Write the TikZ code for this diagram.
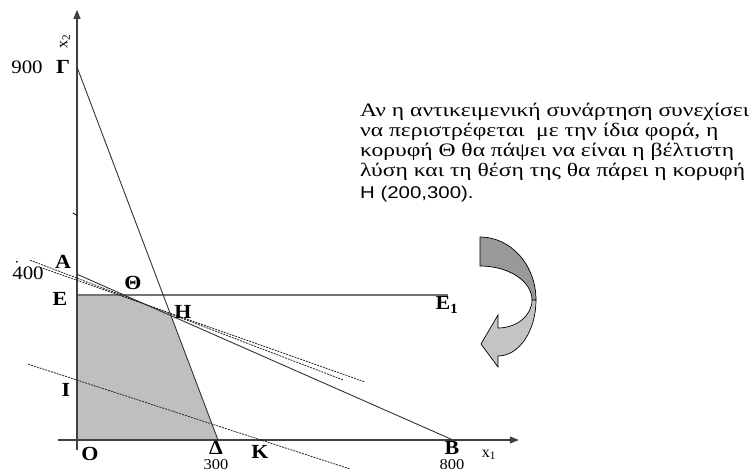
\documentclass[tikz,border=0pt]{standalone}
\usepackage{fontspec}
\setmainfont{Liberation Serif}
\newfontfamily\sansf{Liberation Sans}
\usepackage{graphicx}
\usetikzlibrary{arrows.meta}
\newcommand{\hs}[1]{\scalebox{1.1}[1]{#1}}
\newcommand{\ts}[1]{\scalebox{1.24}[1]{#1}}
\tikzset{
 lbl/.style={inner sep=0pt, font=\fontsize{20}{22}\selectfont\bfseries},
 num/.style={inner sep=0pt, font=\fontsize{19}{21}\selectfont},
 bnum/.style={inner sep=0pt, anchor=base, font=\fontsize{15}{16}\selectfont},
 axl/.style={inner sep=0pt, font=\fontsize{16}{18}\selectfont},
 axis/.style={draw=black!75, line width=1.1pt},
 cline/.style={draw=black!80, line width=0.9pt},
 eline/.style={draw=black!55, line width=1.6pt},
 dline/.style={draw=black!85, line width=0.8pt, dash pattern=on 2pt off 1pt},
 txt/.style={inner sep=0pt, anchor=base west, font=\fontsize{19}{20}\selectfont},
 darkpart/.style={fill=black!40, draw=black, line width=0.7pt},
 lightpart/.style={fill=black!23, draw=black, line width=0.7pt},
}
\begin{document}
\begin{tikzpicture}[x=1pt,y=1pt]
\useasboundingbox (0,0) rectangle (752,473);
\begin{scope}[shift={(77pt,33pt)}, x=0.47pt, y=0.4144pt]
 \coordinate (O) at (0,0);
 \coordinate (G) at (0,900);
 \coordinate (D) at (300,0);
 \coordinate (A) at (0,400);
 \coordinate (B) at (800,0);
 \coordinate (E) at (0,350);
 \coordinate (E1) at (790,350);
 \coordinate (T) at (100,350);
 \coordinate (H) at (200,300);
 \coordinate (xs) at (-40,0);
 \coordinate (xe) at (940,0);
 \coordinate (ys) at (0,-24);
 \coordinate (ye) at (0,1038);
 \coordinate (p1) at (-100,434);
 \coordinate (p2) at (566,145);
 \coordinate (q1) at (-79,417);
 \coordinate (q2) at (613,140);
 \coordinate (r1) at (-104,183);
 \coordinate (r2) at (581,-70);
 \coordinate (tk1) at (-9,548);
 \coordinate (tk2) at (0,542);
 \coordinate (dt) at (-128,430);
 \fill[gray!50] (O) -- (E) -- (T) -- (H) -- (D) -- cycle;
 \draw[eline] (E) -- (E1);
 \draw[axis, -{Triangle[length=9pt,width=7pt]}] (xs) -- (xe);
 \draw[axis, -{Triangle[length=9pt,width=7pt]}] (ys) -- (ye);
 \draw[cline] (G) -- (D);
 \draw[cline] (A) -- (B);
 \draw[dline] (p1) -- (p2);
 \draw[dline] (q1) -- (q2);
 \draw[dline] (r1) -- (r2);
 \draw[black, line width=0.8pt] (tk1) -- (tk2);
 \fill[black] (dt) circle[radius=1pt];
\end{scope}
% labels
\node[axl, rotate=90] (lx2) at (65,432) {x\textsubscript{2}};
\node[num] (l900) at (27,406) {\hs{900}};
\node[lbl] (lG) at (63,406) {\hs{Γ}};
\node[num] (l400) at (28,200) {\hs{400}};
\node[lbl] (lA) at (63,211) {\hs{A}};
\node[lbl] (lT) at (133,190) {\hs{Θ}};
\node[lbl] (lE) at (60,174) {\hs{E}};
\node[lbl] (lH) at (183,161) {\hs{H}};
\node[lbl] (lE1) at (447,168) {\hs{E\textsubscript{1}}};
\node[lbl] (lI) at (66,83) {\hs{I}};
\node[lbl] (lO) at (90,19) {\hs{O}};
\node[lbl] (lD) at (216,25.5) {\hs{Δ}};
\node[bnum] (l300) at (216,3) {\hs{300}};
\node[lbl] (lK) at (260,21) {\hs{K}};
\node[lbl] (lB) at (452,25.5) {\hs{B}};
\node[bnum] (l800) at (452,3) {\hs{800}};
\node[axl] (lx1) at (489,18) {x\textsubscript{1}};
% text
\node[txt] (t1) at (360,356) {\ts{Αν η αντικειμενική συνάρτηση συνεχίσει}};
\node[txt] (t2) at (360,336) {\ts{να περιστρέφεται~ με την ίδια φορά, η}};
\node[txt] (t3) at (360,316) {\ts{κορυφή Θ θα πάψει να είναι η βέλτιστη}};
\node[txt] (t4) at (360,296) {\ts{λύση και τη θέση της θα πάρει η κορυφή}};
\node[txt, font=\sansf\fontsize{17}{18}\selectfont] (t5) at (360,274) {\scalebox{1.2}[1]{H (200,300).}};
% curved arrow
\path[darkpart] (480,236) arc[start angle=90, end angle=0, x radius=56, y radius=63]
  -- (532,173) arc[start angle=0, end angle=90, x radius=52, y radius=34] -- cycle;
\path[lightpart] (536,173) arc[start angle=0, end angle=-90, x radius=38, y radius=56]
  -- (498,106) -- (481,129) -- (498,158) -- (498,145)
  arc[start angle=-90, end angle=0, x radius=34, y radius=28] -- cycle;
\end{tikzpicture}
\end{document}
